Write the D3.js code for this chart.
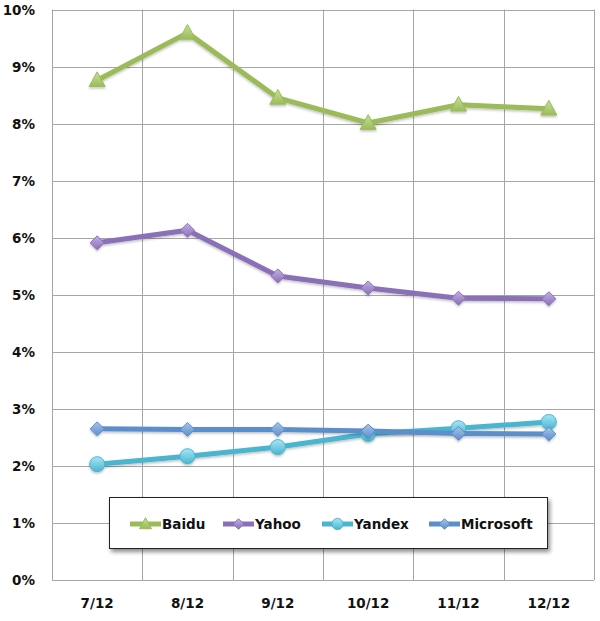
<!DOCTYPE html>
<html><head><meta charset="utf-8">
<script src="https://cdn.jsdelivr.net/npm/d3@7"></script>
<style>body{margin:0;background:#fff;}svg{display:block;font-family:"DejaVu Sans",sans-serif;font-weight:bold;}</style>
</head><body>
<svg id="c" width="600" height="621"></svg>
<script>
const categories = ["7/12","8/12","9/12","10/12","11/12","12/12"];
const baidu = [8.76, 9.59, 8.45, 8.01, 8.33, 8.26];
const yahoo = [5.91, 6.13, 5.33, 5.12, 4.94, 4.93];
const yandex = [2.03, 2.17, 2.33, 2.56, 2.66, 2.77];
const microsoft = [2.65, 2.64, 2.64, 2.61, 2.57, 2.56];
const yTicks = [0,1,2,3,4,5,6,7,8,9,10];
const seriesNames = ["Baidu","Yahoo","Yandex","Microsoft"];

const series = [
  {name:"Baidu", values:baidu, color:"#9bbb59", light:"#c6e09a", marker:"triangle"},
  {name:"Yahoo", values:yahoo, color:"#8a6fb8", light:"#c2b0e2", marker:"diamond"},
  {name:"Yandex", values:yandex, color:"#4bb5cf", light:"#a6e6f5", marker:"circle"},
  {name:"Microsoft", values:microsoft, color:"#5b8ecb", light:"#a9c5ea", marker:"diamond"}
];

const svg = d3.select("#c");
const L=52, R=594, T=9.5, B=580;
const x = d3.scaleBand().domain(categories).range([L,R]);
const y = d3.scaleLinear().domain([0,10]).range([B,T]);

const defs = svg.append("defs");
const f = defs.append("filter").attr("id","sh").attr("x","-20%").attr("y","-20%").attr("width","140%").attr("height","160%");
f.append("feDropShadow").attr("dx",0).attr("dy",1.5).attr("stdDeviation",1.2).attr("flood-color","#000").attr("flood-opacity",0.25);
const f2 = defs.append("filter").attr("id","lsh").attr("x","-10%").attr("y","-30%").attr("width","130%").attr("height","180%");
f2.append("feDropShadow").attr("dx",2).attr("dy",3).attr("stdDeviation",2).attr("flood-color","#000").attr("flood-opacity",0.45);
series.forEach((s,i)=>{
  const g = defs.append("linearGradient").attr("id","g"+i).attr("x1",0).attr("y1",0).attr("x2",0).attr("y2",1);
  g.append("stop").attr("offset","0%").attr("stop-color",s.light);
  g.append("stop").attr("offset","100%").attr("stop-color",s.color);
});

// grid
const grid = svg.append("g").attr("stroke","#a6a6a6").attr("stroke-width",1);
yTicks.forEach(t=>{
  grid.append("line").attr("x1",L).attr("x2",R).attr("y1",Math.round(y(t))+0.5).attr("y2",Math.round(y(t))+0.5);
});
const bounds = categories.map(c=>x(c)).concat([R]);
bounds.forEach(b=>{
  grid.append("line").attr("x1",Math.round(b)+0.5).attr("x2",Math.round(b)+0.5).attr("y1",T).attr("y2",B);
});

// y labels
svg.append("g").selectAll("text").data(yTicks).join("text")
  .attr("x",35).attr("y",d=>y(d)+5).attr("text-anchor","end")
  .attr("font-size","13.5px").attr("fill","#111").text(d=>d+"%");
// x labels
svg.append("g").selectAll("text").data(categories).join("text")
  .attr("x",d=>x(d)+x.bandwidth()/2).attr("y",608).attr("text-anchor","middle")
  .attr("font-size","13.5px").attr("fill","#111").text(d=>d);

function markerPath(type, size){
  if(type==="triangle") return d3.symbol(d3.symbolTriangle, size*1.5)();
  if(type==="diamond") return "M0,-7L7,0L0,7L-7,0Z";
  return null;
}
function drawMarker(g, s, i, cx, cy, scale){
  scale = scale||1;
  if(s.marker==="circle"){
    g.append("circle").attr("cx",cx).attr("cy",cy).attr("r",7.5*scale)
      .attr("fill","url(#g"+i+")").attr("stroke",s.color).attr("stroke-width",1);
  } else if(s.marker==="triangle"){
    const h=14*scale, w=16*scale;
    g.append("path").attr("d",`M${cx},${cy-h*0.6}L${cx+w/2},${cy+h*0.45}L${cx-w/2},${cy+h*0.45}Z`)
      .attr("fill","url(#g"+i+")").attr("stroke",s.color).attr("stroke-width",1);
  } else {
    const r=7*scale;
    g.append("path").attr("d",`M${cx},${cy-r}L${cx+r},${cy}L${cx},${cy+r}L${cx-r},${cy}Z`)
      .attr("fill","url(#g"+i+")").attr("stroke",s.color).attr("stroke-width",1);
  }
}

const line = d3.line().x((d,j)=>x(categories[j])+x.bandwidth()/2).y(d=>y(d));
series.forEach((s,i)=>{
  const g = svg.append("g").attr("filter","url(#sh)");
  g.append("path").attr("d",line(s.values)).attr("fill","none")
    .attr("stroke",s.color).attr("stroke-width",5).attr("stroke-linejoin","round");
  s.values.forEach((v,j)=>drawMarker(g,s,i,x(categories[j])+x.bandwidth()/2,y(v)));
});

// legend
const lg = svg.append("g");
lg.append("rect").attr("x",109.5).attr("y",497.5).attr("width",438).attr("height",51)
  .attr("fill","#fff").attr("stroke","#222").attr("stroke-width",1).attr("filter","url(#lsh)");
const lx = [130,223,322,429];
series.forEach((s,i)=>{
  const g = lg.append("g");
  const cy = 524;
  g.append("line").attr("x1",lx[i]).attr("x2",lx[i]+31).attr("y1",cy).attr("y2",cy)
    .attr("stroke",s.color).attr("stroke-width",5);
  drawMarker(g,s,i,lx[i]+15.5,cy,0.75);
  g.append("text").attr("x",lx[i]+32).attr("y",cy+5).attr("font-size","13.5px").attr("fill","#111").text(seriesNames[i]);
});
</script>
</body></html>
